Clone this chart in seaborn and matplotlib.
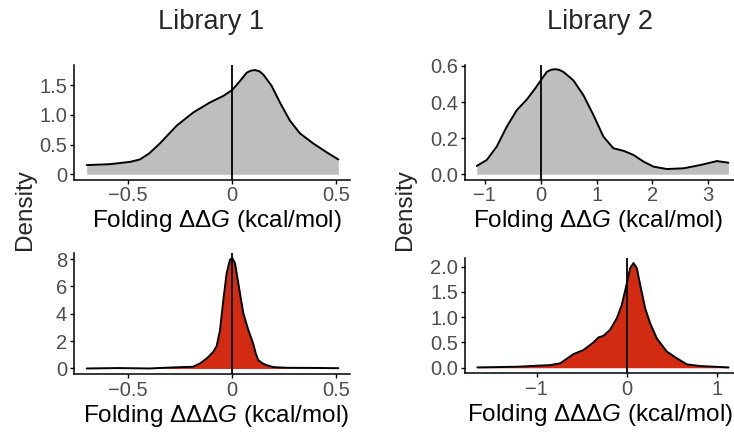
import numpy as np
import pandas as pd
import seaborn as sns
import matplotlib.pyplot as plt

# density curves (x, density)
lib1_ddg_x = [-0.70, -0.59, -0.49, -0.444, -0.40, -0.348, -0.267, -0.188, -0.107, -0.043,
              0.0, 0.037, 0.069, 0.09, 0.109, 0.13, 0.149, 0.189, 0.229, 0.277,
              0.325, 0.389, 0.454, 0.51]
lib1_ddg_y = [0.155, 0.17, 0.21, 0.25, 0.35, 0.52, 0.82, 1.04, 1.21, 1.32,
              1.42, 1.57, 1.71, 1.745, 1.755, 1.735, 1.68, 1.49, 1.21, 0.905,
              0.69, 0.52, 0.37, 0.25]

lib2_ddg_x = [-1.147, -0.968, -0.789, -0.61, -0.43, -0.25, -0.10, 0.0, 0.108, 0.18,
              0.256, 0.33, 0.405, 0.584, 0.763, 0.943, 1.122, 1.30, 1.48, 1.66,
              1.84, 2.02, 2.26, 2.56, 2.855, 3.154, 3.36]
lib2_ddg_y = [0.046, 0.079, 0.153, 0.263, 0.355, 0.414, 0.475, 0.52, 0.567, 0.578,
              0.582, 0.578, 0.567, 0.52, 0.438, 0.328, 0.208, 0.144, 0.130, 0.107,
              0.070, 0.042, 0.029, 0.033, 0.051, 0.073, 0.064]

lib1_dddg_x = [-0.70, -0.55, -0.40, -0.25, -0.19, -0.155, -0.123, -0.091, -0.075, -0.059,
               -0.043, -0.027, -0.011, 0.0, 0.013, 0.029, 0.053, 0.077, 0.10, 0.113,
               0.125, 0.145, 0.165, 0.197, 0.26, 0.40, 0.51]
lib1_dddg_y = [0.0, 0.03, 0.0, 0.1, 0.12, 0.37, 0.73, 1.22, 1.64, 2.8,
               5.0, 6.98, 7.96, 8.08, 7.7, 6.24, 4.04, 2.82, 1.84, 1.1,
               0.61, 0.38, 0.24, 0.1, 0.05, 0.04, 0.02]

lib2_dddg_x = [-1.66, -1.22, -1.0, -0.85, -0.741, -0.593, -0.482, -0.371, -0.315, -0.26,
               -0.186, -0.111, -0.056, 0.0, 0.037, 0.074, 0.111, 0.148, 0.203, 0.259,
               0.333, 0.444, 0.556, 0.667, 0.815, 1.13]
lib2_dddg_y = [0.007, 0.02, 0.04, 0.053, 0.087, 0.27, 0.35, 0.50, 0.60, 0.63,
               0.75, 0.98, 1.24, 1.67, 1.97, 2.07, 1.97, 1.64, 1.18, 0.88,
               0.58, 0.32, 0.186, 0.067, 0.034, 0.007]

titles = ["Library 1", "Library 2"]
ddg_label = r"Folding $\Delta\Delta\mathit{G}$ (kcal/mol)"
dddg_label = r"Folding $\Delta\Delta\Delta\mathit{G}$ (kcal/mol)"

GREY = "#BEBEBE"
RED = "#D22B12"

sns.set_theme(style="ticks")
plt.rcParams["font.family"] = ["Liberation Sans", "DejaVu Sans"]
plt.rcParams["mathtext.fontset"] = "custom"
plt.rcParams["mathtext.rm"] = "Liberation Sans"
plt.rcParams["mathtext.it"] = "Liberation Sans:italic"

W, H = 734, 434
fig = plt.figure(figsize=(W / 100, H / 100), dpi=100)


def px_axes(left, top, right, bottom):
    return fig.add_axes([left / W, 1 - bottom / H, (right - left) / W, (bottom - top) / H])


panels = [
    # x, y, fill, rect, xlim, ylim, xticks, xticklabels, yticks, yticklabels, xlabel, label x shift
    (lib1_ddg_x, lib1_ddg_y, GREY, (74, 65, 350, 179.5), (-0.761, 0.566), (-0.0875, 1.84),
     [-0.5, 0, 0.5], ["\u22120.5", "0", "0.5"], [0, 0.5, 1.0, 1.5], ["0", "0.5", "1.0", "1.5"], ddg_label, 5),
    (lib2_ddg_x, lib2_ddg_y, GREY, (465, 65, 734, 179.5), (-1.357, 3.46), (-0.029, 0.605),
     [-1, 0, 1, 2, 3], ["\u22121", "0", "1", "2", "3"], [0, 0.2, 0.4, 0.6], ["0.0", "0.2", "0.4", "0.6"], ddg_label, -2),
    (lib1_dddg_x, lib1_dddg_y, RED, (74, 252.5, 350, 374), (-0.761, 0.566), (-0.404, 8.485),
     [-0.5, 0, 0.5], ["\u22120.5", "0", "0.5"], [0, 2, 4, 6, 8], ["0", "2", "4", "6", "8"], dddg_label, 4),
    (lib2_dddg_x, lib2_dddg_y, RED, (465, 258, 734, 373), (-1.797, 1.19), (-0.1035, 2.17),
     [-1, 0, 1], ["\u22121", "0", "1"], [0, 0.5, 1.0, 1.5, 2.0], ["0.0", "0.5", "1.0", "1.5", "2.0"], dddg_label, 0),
]

for x, y, fill, rect, xlim, ylim, xt, xtl, yt, ytl, xlabel, shift in panels:
    ax = px_axes(*rect)
    df = pd.DataFrame({"x": x, "density": y})
    ax.fill_between(df["x"], 0, df["density"], color=fill, linewidth=0)
    sns.lineplot(data=df, x="x", y="density", ax=ax, color="black", linewidth=1.4, sort=True)
    ax.axvline(0, color="black", linewidth=1.3)
    ax.set_xlim(*xlim)
    ax.set_ylim(*ylim)
    ax.set_xticks(xt)
    ax.set_xticklabels(xtl)
    ax.set_yticks(yt)
    ax.set_yticklabels(ytl)
    ax.set_ylabel("")
    ax.set_xlabel(xlabel, fontsize=17.5, color="black")
    # place the label a fixed number of pixels under the panel
    ax.xaxis.set_label_coords(0.5 + shift / (rect[2] - rect[0]), -29 / (rect[3] - rect[1]))
    ax.xaxis.label.set_va("top")
    ax.tick_params(axis="both", labelsize=14.5, labelcolor="#4D4D4D", color="black",
                   length=3, width=1, pad=2)
    for s in ["left", "bottom"]:
        ax.spines[s].set_linewidth(1.1)
        ax.spines[s].set_color("black")
    sns.despine(ax=ax)

fig.text(211 / W, 1 - 29 / H, titles[0], ha="center", va="baseline", fontsize=19.5, color="#262626")
fig.text(600 / W, 1 - 29 / H, titles[1], ha="center", va="baseline", fontsize=19.5, color="#262626")
fig.text(25 / W, 1 - 210 / H, "Density", rotation=90, ha="center", va="center", fontsize=17.5)
fig.text(405 / W, 1 - 210 / H, "Density", rotation=90, ha="center", va="center", fontsize=17.5)

fig.savefig("out.png", dpi=100)
